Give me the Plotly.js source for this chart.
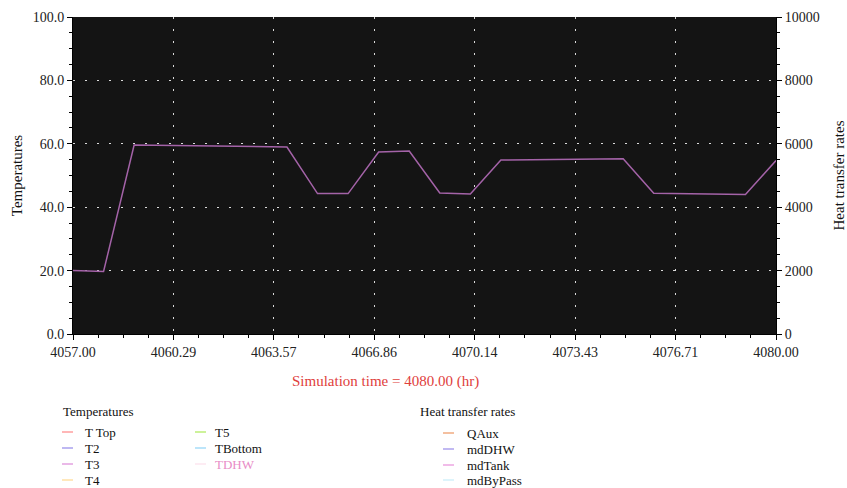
<!DOCTYPE html>
<html>
<head>
<meta charset="utf-8">
<script src="https://cdn.plot.ly/plotly-3.0.1.min.js"></script>
<style>html,body{margin:0;padding:0;background:#fff;}#chart{width:847px;height:488px;}</style>
</head>
<body>
<div id="chart"></div>
<script>
// ---- data ----
var times = [4057,4058,4059,4060,4061,4062,4063,4064,4065,4066,4067,4068,4069,4070,4071,4072,4073,4074,4075,4076,4077,4078,4079,4080];
var tempValues = [20.0,19.7,59.6,59.5,59.4,59.3,59.2,59.0,44.3,44.3,57.4,57.7,44.5,44.2,54.9,55.0,55.1,55.2,55.3,44.4,44.3,44.2,44.0,54.7];
var xTickVals = [4057, 4060.2857, 4063.5714, 4066.8571, 4070.1429, 4073.4286, 4076.7143, 4080];
var xTickText = ["4057.00","4060.29","4063.57","4066.86","4070.14","4073.43","4076.71","4080.00"];
var tempNames = ["T Top","T2","T3","T4","T5","TBottom","TDHW"];
var tempColors = ["#ff9f9f","#a9a0ee","#e3a2e0","#ffe0a6","#bdee78","#a6dcf8","#fde6ef"];
var heatNames = ["QAux","mdDHW","mdTank","mdByPass"];
var heatColors = ["#f0ab80","#ada2ee","#eca6e2","#d2f1fa"];
var xTitle = "Simulation time = 4080.00 (hr)";

// ---- layout helpers (pixel -> paper) ----
var L = 73, R = 776, T = 17, B = 334;
function PX(px){ return (px - L) / (R - L); }
function PY(py){ return (B - py) / (B - T); }

var FONT = "'Liberation Serif', 'DejaVu Serif', serif";
var traces = [{
  x: times, y: tempValues, type: "scatter", mode: "lines",
  line: {color: "#a463a8", width: 1.5}, showlegend: false, name: "TDHW", hoverinfo: "x+y"
}, {
  x: [], y: [], type: "scatter", mode: "lines", yaxis: "y2", showlegend: false, name: "Heat transfer rates"
}];

var shapes = [], annotations = [];
function legendItem(px, py, tx, name, color, textColor){
  shapes.push({type:"line", xref:"paper", yref:"paper", x0:PX(px), x1:PX(px+11), y0:PY(py), y1:PY(py),
               line:{color:color, width:1.5}});
  annotations.push({xref:"paper", yref:"paper", x:PX(tx), y:PY(py), xanchor:"left", yanchor:"middle",
                    text:name, showarrow:false, font:{family:FONT, size:13, color:textColor || "#111"}});
}
annotations.push({xref:"paper", yref:"paper", x:PX(61), y:PY(411), xanchor:"left", yanchor:"middle",
                  text:"Temperatures", showarrow:false, font:{family:FONT, size:13, color:"#111"}});
annotations.push({xref:"paper", yref:"paper", x:PX(418), y:PY(411), xanchor:"left", yanchor:"middle",
                  text:"Heat transfer rates", showarrow:false, font:{family:FONT, size:13, color:"#111"}});
var col1Y = [432, 448, 464, 480], col2Y = [432, 448, 464], col3Y = [433, 449, 465, 480];
for (var i = 0; i < 4; i++) legendItem(62, col1Y[i], 83, tempNames[i], tempColors[i]);
for (var j = 0; j < 3; j++) legendItem(195, col2Y[j], 213, tempNames[4+j], tempColors[4+j], j === 2 ? "#e88cc6" : null);
for (var k = 0; k < 4; k++) legendItem(443, col3Y[k], 465, heatNames[k], heatColors[k]);
annotations.push({xref:"paper", yref:"paper", x:PX(385), y:PY(381), xanchor:"center", yanchor:"middle",
                  text:xTitle, showarrow:false, font:{family:FONT, size:15, color:"#e0403c"}});

var gridColor = "rgba(255,255,255,0.85)";
var layout = {
  width: 847, height: 488,
  margin: {l: L, r: 847 - R, t: T, b: 488 - B},
  paper_bgcolor: "#ffffff", plot_bgcolor: "#141414",
  font: {family: FONT, size: 14, color: "#222"},
  showlegend: false,
  xaxis: {
    range: [4057, 4080], tickvals: xTickVals, ticktext: xTickText,
    showgrid: true, gridcolor: gridColor, gridwidth: 1, griddash: "2px,10px",
    showline: true, linecolor: "#000", linewidth: 1,
    ticks: "outside", ticklen: 5, tickcolor: "#000",
    minor: {dtick: 23/28, tick0: 4057, ticks: "outside", ticklen: 3, tickcolor: "#000", showgrid: false},
    zeroline: false, tickfont: {family: FONT, size: 14, color: "#222"}
  },
  yaxis: {
    range: [0, 100], tick0: 0, dtick: 20, tickformat: ".1f",
    showgrid: true, gridcolor: gridColor, gridwidth: 1, griddash: "2px,10px",
    showline: true, linecolor: "#000", linewidth: 1,
    ticks: "outside", ticklen: 5, tickcolor: "#000",
    minor: {dtick: 5, ticks: "outside", ticklen: 3, tickcolor: "#000", showgrid: false},
    zeroline: false, tickfont: {family: FONT, size: 14, color: "#222"},
    title: {text: "Temperatures", font: {family: FONT, size: 15, color: "#111"}, standoff: 6}
  },
  yaxis2: {
    overlaying: "y", side: "right", range: [0, 10000], tick0: 0, dtick: 2000, tickformat: "d",
    showgrid: false, showline: true, linecolor: "#000", linewidth: 1,
    ticks: "outside", ticklen: 5, tickcolor: "#000",
    minor: {dtick: 500, ticks: "outside", ticklen: 3, tickcolor: "#000", showgrid: false},
    zeroline: false, tickfont: {family: FONT, size: 14, color: "#222"},
    title: {text: "Heat transfer rates", font: {family: FONT, size: 15, color: "#111"}, standoff: 20}
  },
  shapes: shapes,
  annotations: annotations
};
Plotly.newPlot("chart", traces, layout, {displayModeBar: false, staticPlot: true});
</script>
</body>
</html>
